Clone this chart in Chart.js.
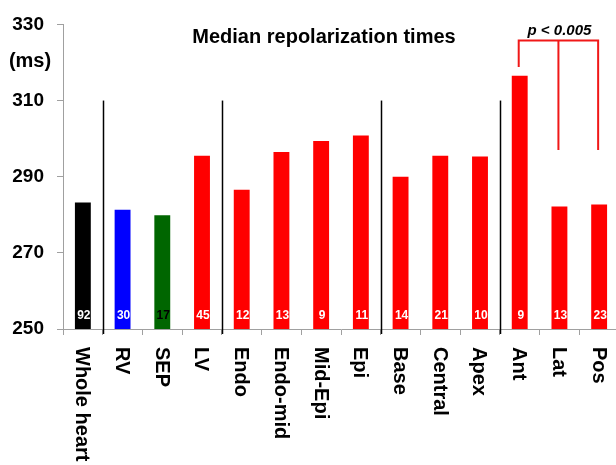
<!DOCTYPE html>
<html>
<head>
<meta charset="utf-8">
<script src="https://cdn.jsdelivr.net/npm/chart.js@4/dist/chart.umd.min.js"></script>
<style>
    html, body { margin: 0; padding: 0; background: #fff; overflow: hidden; }
    .chart-box { position: relative; width: 620px; height: 465px; }
</style>
</head>
<body>
<div class="chart-box"><canvas id="repolChart"></canvas></div>
<script>
const categories = ['Whole heart', 'RV', 'SEP', 'LV', 'Endo', 'Endo-mid', 'Mid-Epi', 'Epi', 'Base', 'Central', 'Apex', 'Ant', 'Lat', 'Pos'];
const medianTimes = [283.2, 281.3, 279.9, 295.5, 286.6, 296.5, 299.4, 300.8, 290.0, 295.5, 295.3, 316.5, 282.2, 282.7];
const counts = [92, 30, 17, 45, 12, 13, 9, 11, 14, 21, 10, 9, 13, 23];
const yTicks = [250, 270, 290, 310, 330];
const groupStarts = [1, 4, 8, 11];

const barColors = ['#000000', '#0000ff', '#006600', '#ff0000', '#ff0000', '#ff0000', '#ff0000',
    '#ff0000', '#ff0000', '#ff0000', '#ff0000', '#ff0000', '#ff0000', '#ff0000'];
const countColors = counts.map((c, i) => (i === 2 ? '#000000' : '#ffffff'));
const FONT = '"Liberation Sans", Arial, sans-serif';

const annotations = {
    id: 'annotations',
    afterDatasetsDraw(chart) {
        const { ctx, chartArea, scales: { x, y } } = chart;
        ctx.save();

        // group separators
        ctx.strokeStyle = '#000';
        ctx.lineWidth = 1.5;
        groupStarts.forEach((i) => {
            const px = Math.round((x.getPixelForValue(i - 1) + x.getPixelForValue(i)) / 2) + 0.5;
            ctx.beginPath();
            ctx.moveTo(px, y.getPixelForValue(310));
            ctx.lineTo(px, chartArea.bottom + 5);
            ctx.stroke();
        });

        // n counts at bar bottoms
        ctx.font = `bold 12px ${FONT}`;
        ctx.textAlign = 'center';
        ctx.textBaseline = 'middle';
        counts.forEach((n, i) => {
            ctx.fillStyle = countColors[i];
            ctx.fillText(String(n), x.getPixelForValue(i) + 1, chartArea.bottom - 13);
        });

        // significance bracket
        const antX = x.getPixelForValue(11);
        const latX = x.getPixelForValue(12);
        const posX = x.getPixelForValue(13);
        const topY = y.getPixelForValue(325.8);
        ctx.strokeStyle = '#f01818';
        ctx.lineWidth = 2;
        ctx.beginPath();
        ctx.moveTo(antX - 1, y.getPixelForValue(318.8));
        ctx.lineTo(antX - 1, topY);
        ctx.lineTo(posX - 1, topY);
        ctx.lineTo(posX - 1, y.getPixelForValue(297));
        ctx.moveTo(latX - 1, topY);
        ctx.lineTo(latX - 1, y.getPixelForValue(297));
        ctx.stroke();

        ctx.fillStyle = '#000';
        ctx.font = `italic bold 15px ${FONT}`;
        ctx.fillText('p < 0.005', latX, topY - 10);

        // title and unit
        ctx.font = `bold 20px ${FONT}`;
        ctx.fillText('Median repolarization times', 324, 37);
        ctx.fillText('(ms)', 30, 61);

        // category labels, rotated clockwise
        ctx.font = `bold 20px ${FONT}`;
        ctx.textAlign = 'left';
        categories.forEach((label, i) => {
            ctx.save();
            ctx.translate(x.getPixelForValue(i) - 1, chartArea.bottom + 18);
            ctx.rotate(Math.PI / 2);
            ctx.fillText(label, 0, 0);
            ctx.restore();
        });

        ctx.restore();
    }
};

new Chart(document.getElementById('repolChart'), {
    type: 'bar',
    data: {
        labels: categories,
        datasets: [{
            data: medianTimes,
            backgroundColor: barColors,
            borderWidth: 0,
            categoryPercentage: 1,
            barPercentage: 0.4
        }]
    },
    options: {
        responsive: true,
        maintainAspectRatio: false,
        animation: false,
        layout: { padding: { top: 20, right: 1, left: 0, bottom: 0 } },
        plugins: {
            legend: { display: false },
            tooltip: { enabled: false }
        },
        scales: {
            x: {
                grid: { drawOnChartArea: false, drawTicks: true, tickLength: 6, color: '#a0a0a0' },
                border: { display: true, color: '#a0a0a0' },
                ticks: { display: false },
                afterFit(scale) { scale.height = 136; }
            },
            y: {
                min: yTicks[0],
                max: yTicks[yTicks.length - 1],
                afterBuildTicks(scale) { scale.ticks = yTicks.map((v) => ({ value: v })); },
                grid: { drawOnChartArea: false, drawTicks: true, tickLength: 6, color: '#a0a0a0' },
                border: { display: true, color: '#a0a0a0' },
                ticks: {
                    color: '#000',
                    padding: 13,
                    font: { family: FONT, size: 19, weight: 'bold' }
                },
                afterFit(scale) { scale.width = 63; }
            }
        }
    },
    plugins: [annotations]
});
</script>
</body>
</html>
